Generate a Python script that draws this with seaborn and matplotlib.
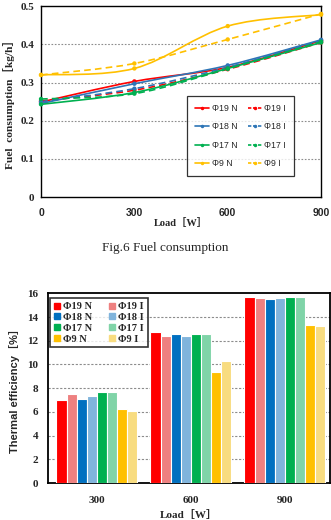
import numpy as np
import pandas as pd
import matplotlib
matplotlib.use('Agg')
import matplotlib.pyplot as plt
import seaborn as sns
from matplotlib.path import Path
from matplotlib.patches import PathPatch
from matplotlib.lines import Line2D

sns.set_theme(style='white')
SERIF = ['Liberation Serif', 'Noto Sans CJK JP']
SANS = ['Liberation Sans', 'Noto Sans CJK JP']
plt.rcParams['font.family'] = SERIF

# series names (N = solid, I = dashed)
series = ['Φ19 N', 'Φ19 I', 'Φ18 N', 'Φ18 I', 'Φ17 N', 'Φ17 I', 'Φ9 N', 'Φ9 I']

# fuel consumption [kg/h] vs load
fuel_load = [0, 300, 600, 900]
fuel_19n = [0.249, 0.303, 0.340, 0.410]
fuel_19i = [0.252, 0.280, 0.335, 0.405]
fuel_18n = [0.245, 0.297, 0.345, 0.412]
fuel_18i = [0.250, 0.284, 0.340, 0.410]
fuel_17n = [0.243, 0.274, 0.337, 0.405]
fuel_17i = [0.257, 0.271, 0.336, 0.407]
fuel_9n = [0.320, 0.337, 0.448, 0.478]
fuel_9i = [0.320, 0.350, 0.413, 0.480]

# thermal efficiency [%] per load
eff_load = ['300', '600', '900']
eff_19n = [7.0, 12.7, 15.7]
eff_19i = [7.5, 12.4, 15.6]
eff_18n = [7.1, 12.6, 15.5]
eff_18i = [7.35, 12.4, 15.6]
eff_17n = [7.65, 12.6, 15.7]
eff_17i = [7.65, 12.6, 15.7]
eff_9n = [6.25, 9.4, 13.35]
eff_9i = [6.1, 10.25, 13.2]

line_colors = ['#FF0000', '#FF0000', '#2E75B6', '#2E75B6',
               '#00B050', '#00B050', '#FFC000', '#FFC000']
bar_colors = ['#FF0000', '#EE8080', '#0070C0', '#80B4DC',
              '#00B050', '#80D4A8', '#FFC000', '#F8DC80']

fuel = [fuel_19n, fuel_19i, fuel_18n, fuel_18i, fuel_17n, fuel_17i, fuel_9n, fuel_9i]
eff = [eff_19n, eff_19i, eff_18n, eff_18i, eff_17n, eff_17i, eff_9n, eff_9i]

fuel_df = pd.DataFrame([
    {'series': s, 'load': l, 'fuel': v}
    for s, vals in zip(series, fuel) for l, v in zip(fuel_load, vals)
])
eff_df = pd.DataFrame([
    {'series': s, 'load': l, 'eff': v}
    for s, vals in zip(series, eff) for l, v in zip(eff_load, vals)
])


def smooth_path(x, y):
    # excel-like smoothed line: catmull-rom segments as cubic beziers
    x = np.asarray(x, float)
    y = np.asarray(y, float)
    pts = np.column_stack([x, y])
    verts = [pts[0]]
    codes = [Path.MOVETO]
    n = len(pts)
    for i in range(n - 1):
        p0 = pts[max(i - 1, 0)]
        p1 = pts[i]
        p2 = pts[i + 1]
        p3 = pts[min(i + 2, n - 1)]
        c1 = p1 + (p2 - p0) / 6
        c2 = p2 - (p3 - p1) / 6
        verts += [c1, c2, p2]
        codes += [Path.CURVE4] * 3
    return Path(verts, codes)


fig = plt.figure(figsize=(3.31, 5.20), dpi=100)

# ---- fuel consumption ----
ax1 = fig.add_axes([0.124, 0.621, 0.846, 0.367])
for i, s in enumerate(series):
    sub = fuel_df[fuel_df['series'] == s]
    ls = '-' if s.endswith('N') else (0, (4, 2.5))
    ax1.add_patch(PathPatch(smooth_path(sub['load'], sub['fuel']), fill=False,
                            edgecolor=line_colors[i], lw=1.2, linestyle=ls,
                            clip_on=False, zorder=3))
sns.scatterplot(data=fuel_df, x='load', y='fuel', hue='series', hue_order=series,
                palette=line_colors, s=10, linewidth=0, legend=False, ax=ax1,
                clip_on=False, zorder=4)
ax1.set_xlim(0, 900)
ax1.set_ylim(0, 0.5)
ax1.set_xticks([0, 300, 600, 900])
ax1.set_yticks([0, 0.1, 0.2, 0.3, 0.4, 0.5])
ax1.set_yticklabels(['0', '0.1', '0.2', '0.3', '0.4', '0.5'])
for yv in [0.1, 0.2, 0.3, 0.4]:
    ax1.axhline(yv, color='#8C8C8C', lw=0.8, ls=(0, (1.5, 1.5)), zorder=1)
ax1.tick_params(axis='x', direction='in', length=3, width=0.6, pad=8, color='#808080')
ax1.tick_params(axis='y', length=0, pad=5)
for lab in ax1.get_xticklabels():
    lab.set_family(SANS)
    lab.set_fontweight('bold')
    lab.set_fontsize(7.5)
for lab in ax1.get_yticklabels():
    lab.set_fontweight('bold')
    lab.set_fontsize(8)
for sp in ax1.spines.values():
    sp.set_color('black')
    sp.set_linewidth(1.0)
ax1.set_xlabel('Load［W］', fontsize=7.5, fontweight='bold')
ax1.xaxis.set_label_coords(0.5, -0.136)
ax1.xaxis.label.set_va('center')
ax1.set_ylabel('Fuel  consumption［kg/h］', fontsize=8.2, fontweight='bold')
ax1.yaxis.set_label_coords(-0.114, 0.5)
ax1.yaxis.label.set_va('center')

handles = []
for i, s in enumerate(series):
    ls = '-' if s.endswith('N') else (0, (2, 1))
    handles.append(Line2D([0], [0], color=line_colors[i], lw=1.2, ls=ls,
                          marker='o', markersize=2.5, markeredgewidth=0))
order = [0, 2, 4, 6, 1, 3, 5, 7]
leg1 = ax1.legend([handles[k] for k in order], [series[k] for k in order], ncol=2,
                  loc='lower left', bbox_to_anchor=(0.507, 0.089, 0.411, 0.424),
                  mode='expand', frameon=True, fancybox=False, handlelength=1.6,
                  handletextpad=0.3, columnspacing=0.8, labelspacing=1.05,
                  borderpad=0.9, prop={'family': SANS, 'size': 6.3})
leg1.get_frame().set_edgecolor('black')
leg1.get_frame().set_linewidth(0.9)

fig.text(0.5, 0.523, 'Fig.6 Fuel consumption', ha='center', va='center', fontsize=9.5)

# ---- thermal efficiency ----
ax2 = fig.add_axes([0.145, 0.071, 0.852, 0.365])
sns.barplot(data=eff_df, x='load', y='eff', hue='series', hue_order=series,
            order=eff_load, palette=bar_colors, width=0.86, edgecolor='white',
            linewidth=0.8, saturation=1, legend=False, ax=ax2, zorder=3)
ax2.set_xlim(-0.52, 2.48)
ax2.set_ylim(0, 16)
ax2.set_yticks(range(0, 17, 2))
for yv in range(2, 16, 2):
    ax2.axhline(yv, color='#8C8C8C', lw=0.8, ls=(0, (2, 1.5)), zorder=1)
ax2.set_xticks([0.5, 1.5], minor=True)
ax2.tick_params(axis='x', which='major', length=0, pad=9)
ax2.tick_params(axis='x', which='minor', direction='in', length=2.5, width=0.6, color='#808080')
ax2.tick_params(axis='y', length=0, pad=7)
for lab in ax2.get_xticklabels() + ax2.get_yticklabels():
    lab.set_fontweight('bold')
    lab.set_fontsize(8)
for sp in ax2.spines.values():
    sp.set_color('black')
    sp.set_linewidth(1.3)
ax2.set_xlabel('Load［W］', fontsize=8, fontweight='bold')
ax2.xaxis.set_label_coords(0.5, -0.168)
ax2.xaxis.label.set_va('center')
ax2.set_ylabel('Thermal efficiency［%］', fontsize=8, fontweight='bold', family=SANS)
ax2.yaxis.set_label_coords(-0.12, 0.5)
ax2.yaxis.label.set_va('center')

bar_handles = [Line2D([0], [0], color=c, lw=0, marker='s', markersize=5)
               for c in bar_colors]
leg2 = ax2.legend([bar_handles[k] for k in order], [series[k] for k in order], ncol=2,
                  loc='upper left', bbox_to_anchor=(0.007, 0.974), frameon=True,
                  fancybox=False, handlelength=0.6, handletextpad=0.3,
                  columnspacing=1.6, labelspacing=0.15, borderpad=0.35,
                  borderaxespad=0, prop={'family': SERIF, 'size': 7.5, 'weight': 'bold'})
leg2.get_frame().set_edgecolor('black')
leg2.get_frame().set_linewidth(1.2)

plt.savefig('out.png', dpi=100)
